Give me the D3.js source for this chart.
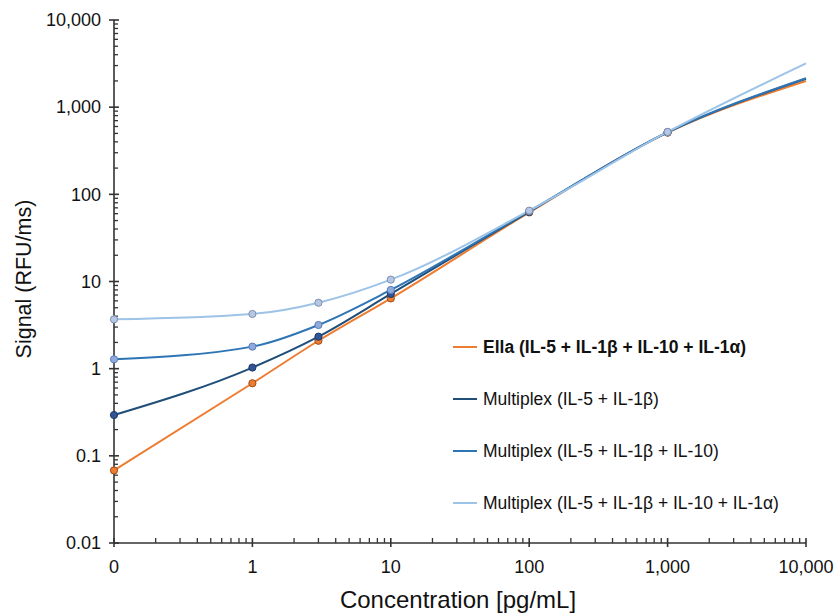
<!DOCTYPE html>
<html>
<head>
<meta charset="utf-8">
<script src="https://cdn.jsdelivr.net/npm/d3@7/dist/d3.min.js"></script>
<style>
  html, body { margin: 0; padding: 0; background: #fff; }
  svg { display: block; font-family: "Liberation Sans", Arial, sans-serif; }
</style>
</head>
<body>
<svg id="chart" width="835" height="615"></svg>
<script>
// Concentrations (pg/mL); 0 is plotted at 0.1 on the log axis
const concentrations = [0.1, 1, 3, 10, 100, 1000];
const curveEndConc = 10000;

const seriesNames = [
  "Ella (IL-5 + IL-1\u03b2 + IL-10 + IL-1\u03b1)",
  "Multiplex (IL-5 + IL-1\u03b2)",
  "Multiplex (IL-5 + IL-1\u03b2 + IL-10)",
  "Multiplex (IL-5 + IL-1\u03b2 + IL-10 + IL-1\u03b1)"
];
const ellaValues      = [0.068, 0.68, 2.09, 6.4, 62, 510];
const mpx2Values      = [0.294, 1.03, 2.33, 7.2, 63, 515];
const mpx3Values      = [1.28, 1.79, 3.17, 8.0, 64, 518];
const mpx4Values      = [3.68, 4.24, 5.71, 10.5, 65, 520];
const curveEndValues  = [2000, 2120, 2150, 3180];

const xTickValues = [0.1, 1, 10, 100, 1000, 10000];
const xTickLabels = ["0", "1", "10", "100", "1,000", "10,000"];
const yTickValues = [0.01, 0.1, 1, 10, 100, 1000, 10000];
const yTickLabels = ["0.01", "0.1", "1", "10", "100", "1,000", "10,000"];

const lineColors   = ["#ED7D31", "#1F4E79", "#2E75B6", "#9DC3E6"];
const markerFills  = ["#ED7D31", "#2F5597", "#8FAADC", "#B4C7E7"];
const markerStroke = ["#9C4A14", "#1F3864", "#5B7DB8", "#7F8FA8"];

const allValues = [ellaValues, mpx2Values, mpx3Values, mpx4Values];

const svg = d3.select("#chart");
const x = d3.scaleLog().domain([0.1, 10000]).range([114, 806]);
const y = d3.scaleLog().domain([0.01, 10000]).range([543, 20]);

const axisColor = "#333";

// Minor ticks
const minorX = [];
for (let e = -1; e < 4; e++) for (let m = 2; m <= 9; m++) minorX.push(m * Math.pow(10, e));
const minorY = [];
for (let e = -2; e < 4; e++) for (let m = 2; m <= 9; m++) minorY.push(m * Math.pow(10, e));

const gAxes = svg.append("g");
// y axis
gAxes.append("line").attr("x1", x(0.1)).attr("x2", x(0.1)).attr("y1", y(10000)).attr("y2", y(0.01))
  .attr("stroke", axisColor).attr("stroke-width", 1.6);
gAxes.selectAll(".ymin").data(minorY).enter().append("line")
  .attr("x1", x(0.1)).attr("x2", x(0.1) + 4).attr("y1", d => y(d)).attr("y2", d => y(d))
  .attr("stroke", axisColor).attr("stroke-width", 1.3);
gAxes.selectAll(".ymaj").data(yTickValues).enter().append("line")
  .attr("x1", x(0.1) - 5).attr("x2", x(0.1) + 5).attr("y1", d => y(d)).attr("y2", d => y(d))
  .attr("stroke", axisColor).attr("stroke-width", 1.6);
gAxes.selectAll(".ylab").data(yTickValues).enter().append("text")
  .attr("x", x(0.1) - 13).attr("y", d => y(d)).attr("dy", "0.35em")
  .attr("text-anchor", "end").attr("font-size", 18).attr("fill", "#111")
  .text((d, i) => yTickLabels[i]);

// x axis
gAxes.append("line").attr("x1", x(0.1)).attr("x2", x(10000)).attr("y1", y(0.01)).attr("y2", y(0.01))
  .attr("stroke", axisColor).attr("stroke-width", 1.6);
gAxes.selectAll(".xmin").data(minorX).enter().append("line")
  .attr("x1", d => x(d)).attr("x2", d => x(d)).attr("y1", y(0.01)).attr("y2", y(0.01) - 5)
  .attr("stroke", axisColor).attr("stroke-width", 1.3);
gAxes.selectAll(".xmaj").data(xTickValues).enter().append("line")
  .attr("x1", d => x(d)).attr("x2", d => x(d)).attr("y1", y(0.01) - 5).attr("y2", y(0.01) + 4)
  .attr("stroke", axisColor).attr("stroke-width", 1.6);
gAxes.selectAll(".xlab").data(xTickValues).enter().append("text")
  .attr("x", d => x(d)).attr("y", 573)
  .attr("text-anchor", "middle").attr("font-size", 18).attr("fill", "#111")
  .text((d, i) => xTickLabels[i]);

// Axis titles
svg.append("text").attr("x", 458).attr("y", 608).attr("text-anchor", "middle")
  .attr("font-size", 24).attr("fill", "#111").text("Concentration [pg/mL]");
svg.append("text").attr("transform", "translate(31,279) rotate(-90)").attr("text-anchor", "middle")
  .attr("font-size", 21.5).attr("fill", "#111").text("Signal (RFU/ms)");

// Lines
const line = d3.line().x(d => x(d[0])).y(d => y(d[1])).curve(d3.curveMonotoneX);
const gLines = svg.append("g");
allValues.forEach((vals, i) => {
  const pts = concentrations.map((c, j) => [c, vals[j]]);
  pts.push([curveEndConc, curveEndValues[i]]);
  gLines.append("path").attr("d", line(pts)).attr("fill", "none")
    .attr("stroke", lineColors[i]).attr("stroke-width", 2);
});
allValues.forEach((vals, i) => {
  gLines.selectAll(".pt" + i).data(concentrations).enter().append("circle")
    .attr("cx", d => x(d)).attr("cy", (d, j) => y(vals[j])).attr("r", 3.6)
    .attr("fill", markerFills[i]).attr("stroke", markerStroke[i]).attr("stroke-width", 1);
});

// Legend
const legendY = [347, 399, 451, 503];
const gLeg = svg.append("g");
seriesNames.forEach((name, i) => {
  gLeg.append("line").attr("x1", 453).attr("x2", 477).attr("y1", legendY[i]).attr("y2", legendY[i])
    .attr("stroke", lineColors[i]).attr("stroke-width", 2);
  gLeg.append("text").attr("x", 483).attr("y", legendY[i]).attr("dy", "0.35em")
    .attr("font-size", 17.5).attr("fill", "#111")
    .attr("font-weight", i === 0 ? "bold" : "normal").text(name);
});
</script>
</body>
</html>
